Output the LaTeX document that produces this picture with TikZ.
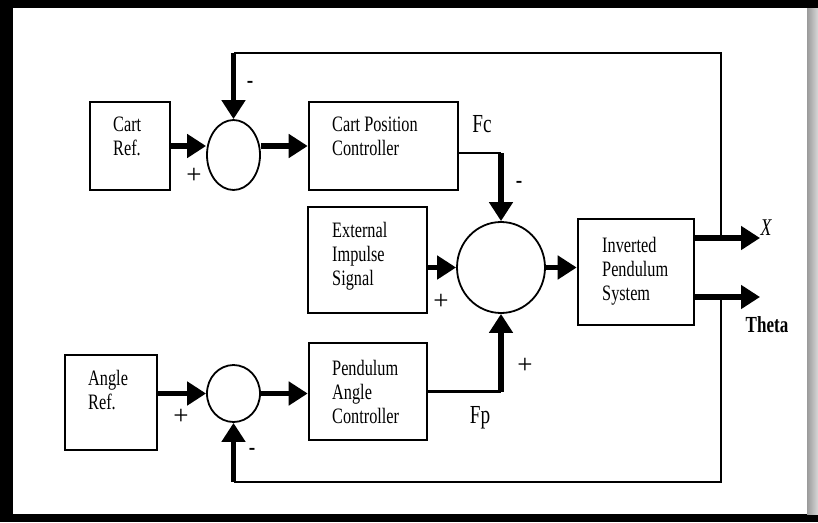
\documentclass[tikz,border=0pt]{standalone}
\usepackage{fontspec}
\setmainfont{Liberation Serif}
\newfontfamily\df[FakeStretch=0.74]{Liberation Serif}
\usetikzlibrary{arrows.meta,shapes.geometric}
\definecolor{edgedark}{HTML}{9A9A9A}
\definecolor{edgelight}{HTML}{D8D8D8}
\tikzset{
  blk/.style={draw, rectangle, line width=2.6pt, inner sep=0pt},
  sumnode/.style={draw, ellipse, line width=1.8pt, inner sep=0pt},
  thinline/.style={line width=2.4pt},
  thickarrow/.style={line width=5.5pt, -{Triangle[length=19pt,width=23pt]}},
  thickline/.style={line width=5.5pt},
  txt/.style={font=\df\fontsize{22}{24}\selectfont, align=left, inner sep=0pt, anchor=north west},
  sign/.style={font=\fontsize{27}{27}\selectfont, inner sep=0pt},
  minus/.style={font=\df\fontsize{26}{26}\selectfont, inner sep=0pt},
  lbl/.style={font=\df\fontsize{26}{26}\selectfont, inner sep=0pt}
}
\begin{document}
\begin{tikzpicture}[x=1pt,y=-1pt]
\useasboundingbox (0,0) rectangle (818,522);
% frame
\fill[black] (0,0) rectangle (13,522);
\fill[black] (0,0) rectangle (818,8);
\fill[black] (0,514) rectangle (818,522);
\shade[left color=edgedark, right color=edgelight] (807,8) rectangle (818,514);

% blocks
\node[blk, minimum width=80pt, minimum height=88pt] (cref) at (130,146) {};
\node[blk, minimum width=149pt, minimum height=88pt] (cpc) at (383.5,146) {};
\node[blk, minimum width=119pt, minimum height=106pt] (ext) at (367.5,260) {};
\node[blk, minimum width=92pt, minimum height=95pt] (aref) at (111,402.5) {};
\node[blk, minimum width=118pt, minimum height=97pt] (pac) at (368,391.5) {};
\node[blk, minimum width=116pt, minimum height=106pt] (ips) at (636,272) {};

% summing junctions
\node[sumnode, minimum width=53pt, minimum height=70pt] (s1) at (233.5,155) {};
\node[sumnode, minimum width=53pt, minimum height=57pt] (s2) at (233.5,393.5) {};
\node[sumnode, minimum width=88pt, minimum height=91pt] (bs) at (501,267.5) {};

% block texts
\node[txt] (tcref) at (113,117) {Cart\\Ref.};
\node[txt] (tcpc) at (332,117) {Cart Position\\Controller};
\node[txt] (text) at (332,222) {External\\Impulse\\Signal};
\node[txt] (taref) at (88,370) {Angle\\Ref.};
\node[txt] (tpac) at (332,360) {Pendulum\\Angle\\Controller};
\node[txt] (tips) at (602,237) {Inverted\\Pendulum\\System};

% coordinates
\coordinate (c1) at (501,153);
\coordinate (c2) at (501,391.5);
\coordinate (xo) at (760,238);
\coordinate (tho) at (760,297);
\coordinate (j1) at (721,238);
\coordinate (j2) at (721,297);
\coordinate (tr) at (721,53);
\coordinate (br) at (721,482);

% forward connectors
\draw[thickarrow] (cref.east) -- (cref.east -| s1.west);
\draw[thickarrow] (cref.east -| s1.east) -- (cpc.west);
\draw[thickarrow] (aref.east |- s2.west) -- (s2.west);
\draw[thickarrow] (s2.east) -- (s2.east -| pac.west);
\draw[thickarrow] (ext.east |- bs.west) -- (bs.west);
\draw[thickarrow] (bs.east) -- (bs.east -| ips.west);
\draw[thinline] (c1 -| cpc.east) -- (c1);
\draw[thickarrow] (c1) -- (bs.north);
\draw[thinline] (pac.east) -- (c2);
\draw[thickarrow] (c2) -- (bs.south);
\draw[thickarrow] (xo -| ips.east) -- (xo);
\draw[thickarrow] (tho -| ips.east) -- (tho);

% feedback
\draw[thinline] (j1) -- (tr) -- (tr -| s1.north);
\draw[thickarrow] (tr -| s1.north) -- (s1.north);
\draw[thinline] (j2) -- (br) -- (br -| s2.south);
\draw[thickarrow] (br -| s2.south) -- (s2.south);

% signs and labels
\node[minus] (m1) at (250,85) {-};
\node[sign] (p1) at (194,176) {+};
\node[lbl] (fc) at (482,124) {Fc};
\node[minus] (m2) at (519,185) {-};
\node[sign] (p2) at (441,302) {+};
\node[sign] (p3) at (525,366) {+};
\node[lbl] (fp) at (480,418) {Fp};
\node[sign] (p4) at (181,417) {+};
\node[minus] (m3) at (252,452) {-};
\node[font=\df\itshape\fontsize{24}{24}\selectfont, inner sep=0pt] (xl) at (766,228) {X};
\node[font=\df\bfseries\fontsize{23}{23}\selectfont, inner sep=0pt] (thl) at (767,325) {Theta};
\end{tikzpicture}
\end{document}
